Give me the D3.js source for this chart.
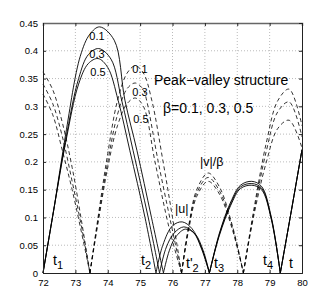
<!DOCTYPE html>
<html>
<head>
<meta charset="utf-8">
<script src="https://cdnjs.cloudflare.com/ajax/libs/d3/7.8.5/d3.min.js"></script>
<style>
body { margin: 0; background: #fff; }
svg { opacity: 0.999; }
text { font-family: "Liberation Sans", Arial, sans-serif; fill: #000; }
</style>
</head>
<body>
<script>
// |u| (solid), beta = 0.1, 0.3, 0.5
var u01 = [[72,0],[72.35,0.12],[72.7,0.25],[73.15,0.39],[73.45,0.43],[73.75,0.443],[74.2,0.419],[74.53,0.311],[74.9,0.221],[75.35,0.1],[75.72,0],
           [75.9,0.04],[76.1,0.065],[76.4,0.079],[76.7,0.07],[76.95,0.04],[77.14,0],
           [77.45,0.068],[77.8,0.122],[78.1,0.152],[78.45,0.158],[78.75,0.15],[79.05,0.097],[79.33,0],[79.65,0.105],[80,0.222]];
var u03 = [[72,0],[72.35,0.12],[72.7,0.24],[73.1,0.35],[73.4,0.393],[73.72,0.404],[74.1,0.385],[74.43,0.311],[74.78,0.221],[75.25,0.1],[75.6,0],
           [75.8,0.045],[76.05,0.072],[76.35,0.083],[76.65,0.073],[76.9,0.043],[77.14,0],
           [77.45,0.07],[77.8,0.125],[78.1,0.155],[78.45,0.161],[78.75,0.153],[79.05,0.099],[79.33,0],[79.65,0.105],[80,0.222]];
var u05 = [[72,0],[72.35,0.12],[72.7,0.235],[73.1,0.34],[73.4,0.377],[73.7,0.386],[74.0,0.37],[74.32,0.311],[74.68,0.221],[75.15,0.1],[75.49,0],
           [75.7,0.05],[76.0,0.085],[76.3,0.092],[76.6,0.08],[76.9,0.045],[77.14,0],
           [77.45,0.072],[77.8,0.128],[78.1,0.158],[78.45,0.165],[78.75,0.156],[79.05,0.101],[79.33,0],[79.65,0.105],[80,0.222]];

// |v|/beta (dashed)
var v01 = [[72,0.362],[72.3,0.33],[72.6,0.27],[72.9,0.19],[73.2,0.09],[73.45,0],
           [73.7,0.1],[74.0,0.215],[74.3,0.31],[74.6,0.36],[74.85,0.373],[75.1,0.36],[75.36,0.311],[75.71,0.2],[76.0,0.1],[76.28,0],
           [76.5,0.085],[76.75,0.15],[77.1,0.18],[77.45,0.155],[77.85,0.085],[78.19,0],
           [78.5,0.11],[78.9,0.235],[79.25,0.31],[79.6,0.331],[80,0.265]];
var v03 = [[72,0.34],[72.3,0.305],[72.6,0.245],[72.9,0.165],[73.2,0.08],[73.45,0],
           [73.7,0.095],[74.0,0.2],[74.3,0.285],[74.6,0.332],[74.85,0.342],[75.1,0.33],[75.2,0.311],[75.56,0.2],[75.95,0.09],[76.28,0],
           [76.5,0.082],[76.75,0.144],[77.1,0.172],[77.45,0.148],[77.85,0.082],[78.19,0],
           [78.5,0.105],[78.9,0.22],[79.25,0.29],[79.6,0.308],[80,0.245]];
var v05 = [[72,0.322],[72.3,0.285],[72.6,0.22],[72.9,0.15],[73.2,0.07],[73.45,0],
           [73.7,0.09],[74.0,0.19],[74.3,0.265],[74.6,0.305],[74.85,0.315],[75.1,0.3],[75.46,0.2],[75.9,0.08],[76.28,0],
           [76.5,0.078],[76.75,0.138],[77.1,0.165],[77.45,0.142],[77.85,0.078],[78.19,0],
           [78.5,0.1],[78.9,0.2],[79.25,0.26],[79.6,0.275],[80,0.225]];

var xTicks = [72, 73, 74, 75, 76, 77, 78, 79, 80];
var yTicks = [0, 0.05, 0.1, 0.15, 0.2, 0.25, 0.3, 0.35, 0.4, 0.45];
var betaLabels = ["0.1", "0.3", "0.5"];

var W = 332, H = 307;
var mLeft = 43, mRight = 302, mTop = 23, mBottom = 273;

var svg = d3.select("body").append("svg")
    .attr("width", W)
    .attr("height", H);

var x = d3.scaleLinear().domain([72, 80]).range([mLeft, mRight]);
var y = d3.scaleLinear().domain([0, 0.45]).range([mBottom, mTop]);

// grid
svg.selectAll("line.gx").data(xTicks.slice(1, -1)).enter().append("line")
    .attr("x1", function(d) { return x(d); }).attr("x2", function(d) { return x(d); })
    .attr("y1", mTop).attr("y2", mBottom)
    .style("stroke", "#aaa").style("stroke-dasharray", "1,2").style("stroke-width", 0.8);
svg.selectAll("line.gy").data(yTicks.slice(1, -1)).enter().append("line")
    .attr("x1", mLeft).attr("x2", mRight)
    .attr("y1", function(d) { return y(d); }).attr("y2", function(d) { return y(d); })
    .style("stroke", "#aaa").style("stroke-dasharray", "1,2").style("stroke-width", 0.8);

// split a series at interior zeros so the cusps stay sharp
function arcs(s) {
  var out = [], cur = [s[0]];
  for (var i = 1; i < s.length; i++) {
    cur.push(s[i]);
    if (s[i][1] === 0 && i < s.length - 1) { out.push(cur); cur = [s[i]]; }
  }
  out.push(cur);
  return out;
}

var line = d3.line()
    .x(function(d) { return x(d[0]); })
    .y(function(d) { return y(d[1]); })
    .curve(d3.curveCatmullRom.alpha(0.5));

var plot = svg.append("g");
[u01, u03, u05].forEach(function(s) {
  plot.selectAll(null).data(arcs(s)).enter().append("path")
      .attr("d", line).attr("fill", "none")
      .style("stroke", "#000").style("stroke-width", 0.9);
});
[v01, v03, v05].forEach(function(s) {
  plot.selectAll(null).data(arcs(s)).enter().append("path")
      .attr("d", line).attr("fill", "none")
      .style("stroke", "#000").style("stroke-width", 0.8)
      .style("stroke-dasharray", "4,3");
});

// axes (box with inward ticks)
var xAxis = d3.axisBottom(x).tickValues(xTicks).tickSize(-3).tickPadding(6).tickFormat(d3.format("d"));
var yAxis = d3.axisLeft(y).tickValues(yTicks).tickSize(-3).tickPadding(5).tickFormat(function(d) { return d === 0 ? "0" : String(+d.toFixed(2)); });
var gx = svg.append("g").attr("transform", "translate(0," + mBottom + ")").call(xAxis);
var gy = svg.append("g").attr("transform", "translate(" + mLeft + ",0)").call(yAxis);
var gt = svg.append("g").attr("transform", "translate(0," + mTop + ")")
    .call(d3.axisTop(x).tickValues(xTicks).tickSize(-3).tickFormat(""));
var gr = svg.append("g").attr("transform", "translate(" + mRight + ",0)")
    .call(d3.axisRight(y).tickValues(yTicks).tickSize(-3).tickFormat(""));
[gx, gy, gt, gr].forEach(function(g) {
  g.select(".domain").style("stroke", "#222");
  g.selectAll(".tick line").style("stroke", "#222");
  g.selectAll("text").style("font-size", "9.5px").style("font-family", "Liberation Sans, Arial, sans-serif");
});
gt.select(".domain").style("stroke", "#666").style("stroke-width", 1.5);

// labels
var solidLab = [[97, 40], [97, 58], [98, 76]];
var dashLab = [[140, 73], [140, 96], [141, 123]];
betaLabels.forEach(function(b, i) {
  svg.append("text").attr("x", solidLab[i][0]).attr("y", solidLab[i][1])
     .attr("text-anchor", "middle").style("font-size", "11px").text(b);
  svg.append("text").attr("x", dashLab[i][0]).attr("y", dashLab[i][1])
     .attr("text-anchor", "middle").style("font-size", "11px").text(b);
});

svg.append("text").attr("x", 154).attr("y", 85).style("font-size", "14px").text("Peak\u2212valley structure");
svg.append("text").attr("x", 163).attr("y", 113).style("font-size", "14px").text("\u03b2=0.1, 0.3, 0.5");
svg.append("text").attr("x", 200).attr("y", 166).style("font-size", "12.5px").text("|v|/\u03b2");
svg.append("text").attr("x", 175).attr("y", 213).style("font-size", "12.5px").text("|u|");

var tLabels = [["t", "1", 53, 265], ["t", "2", 141, 265], ["t'", "2", 186, 268], ["t", "3", 214, 268], ["t", "4", 263, 265], ["t", "", 289, 268]];
tLabels.forEach(function(d) {
  var t = svg.append("text").attr("x", d[2]).attr("y", d[3]).style("font-size", "14px");
  t.append("tspan").text(d[0]);
  if (d[1]) t.append("tspan").attr("dy", 4).style("font-size", "11px").text(d[1]);
});
</script>
</body>
</html>
